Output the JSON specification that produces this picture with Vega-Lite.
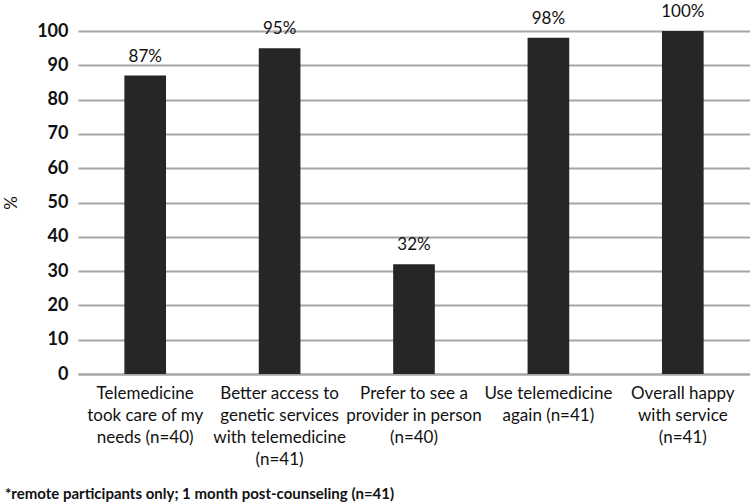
{
  "$schema": "https://vega.github.io/schema/vega-lite/v6.json",
  "autosize": {"type": "none"},
  "width": 672,
  "height": 343,
  "padding": {"left": 78, "top": 31, "right": 0, "bottom": 129},
  "background": "white",
  "config": {"font": "Lato", "view": {"stroke": null}},
  "title": {
    "text": "*remote participants only; 1 month post-counseling  (n=41)",
    "orient": "bottom",
    "anchor": "start",
    "frame": "group",
    "offset": 20,
    "dx": -73,
    "fontSize": 15,
    "fontWeight": "bold",
    "font": "Lato",
    "color": "#111"
  },
  "data": {
    "values": [
      {"item": "Telemedicine|took care of my|needs (n=40)", "pct": 87, "label": "87%"},
      {"item": "Better access to|genetic services|with telemedicine|(n=41)", "pct": 95, "label": "95%"},
      {"item": "Prefer to see a|provider in person|(n=40)", "pct": 32, "label": "32%"},
      {"item": "Use telemedicine|again (n=41)", "pct": 98, "label": "98%"},
      {"item": "Overall happy|with service|(n=41)", "pct": 100, "label": "100%"}
    ]
  },
  "encoding": {
    "x": {
      "field": "item",
      "type": "nominal",
      "sort": null,
      "scale": {"paddingInner": 0.69, "paddingOuter": 0.345},
      "axis": {
        "title": null,
        "labelAngle": 0,
        "labelExpr": "split(datum.label, '|')",
        "labelFontSize": 17,
        "labelLineHeight": 22,
        "labelColor": "#111",
        "labelLimit": 300,
        "labelPadding": 11,
        "ticks": false,
        "domain": true,
        "domainColor": "#a6a6a6",
        "domainWidth": 2
      }
    },
    "y": {
      "field": "pct",
      "type": "quantitative",
      "scale": {"domain": [0, 100]},
      "axis": {
        "title": "%",
        "titleFontSize": 17,
        "titleFontWeight": "normal",
        "titleColor": "#111",
        "titleAngle": 270,
        "titlePadding": 16,
        "values": [0, 10, 20, 30, 40, 50, 60, 70, 80, 90, 100],
        "labelFontSize": 18,
        "labelFontWeight": "bold",
        "labelColor": "#111",
        "labelPadding": 10,
        "ticks": false,
        "domain": false,
        "grid": true,
        "gridColor": "#a6a6a6",
        "gridWidth": 2
      }
    }
  },
  "layer": [
    {"mark": {"type": "bar", "color": "#262626"}},
    {
      "mark": {"type": "text", "baseline": "bottom", "dy": -10, "fontSize": 17, "color": "#111"},
      "encoding": {"text": {"field": "label"}}
    }
  ]
}
